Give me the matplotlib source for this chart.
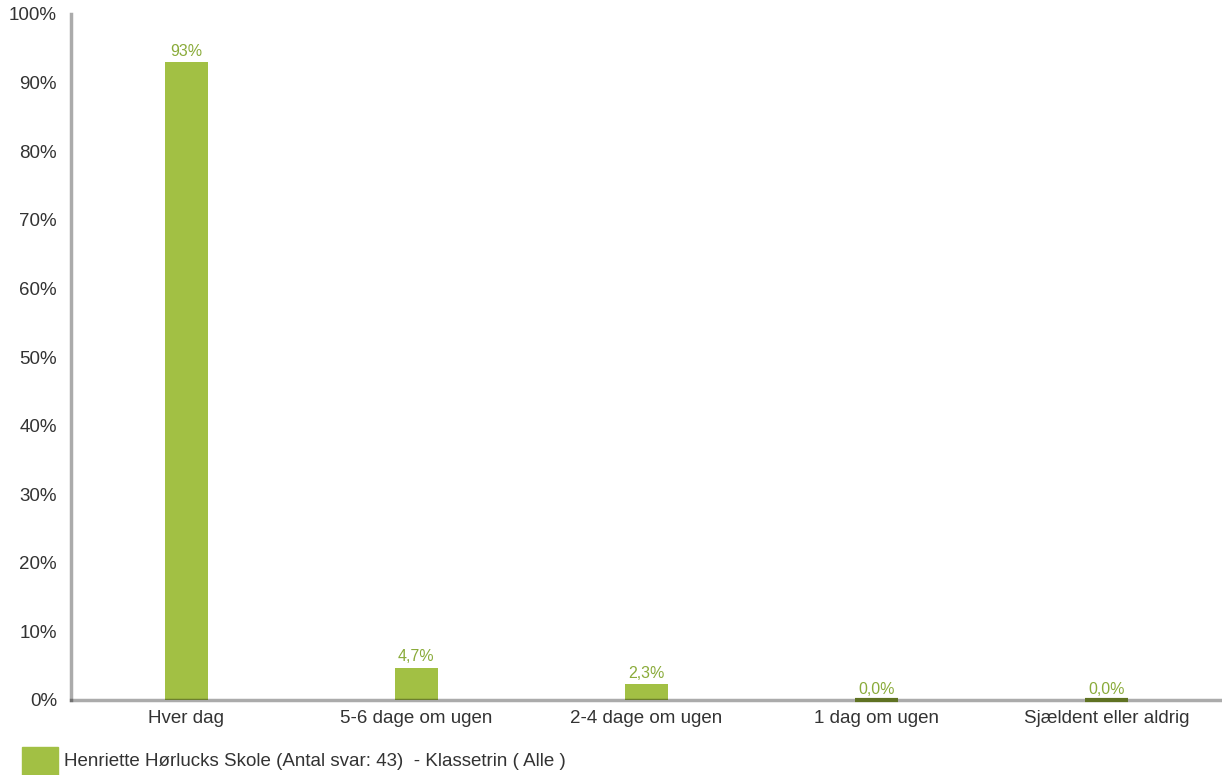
import matplotlib
matplotlib.use("Agg")
import matplotlib.pyplot as plt
from matplotlib.patches import Rectangle

categories = ["Hver dag", "5-6 dage om ugen", "2-4 dage om ugen", "1 dag om ugen", "Sjældent eller aldrig"]
values = [93.0, 4.7, 2.3, 0.0, 0.0]
value_labels = ["93%", "4,7%", "2,3%", "0,0%", "0,0%"]
yticks = [0, 10, 20, 30, 40, 50, 60, 70, 80, 90, 100]
ytick_labels = [f"{t}%" for t in yticks]
legend_label = "Henriette Hørlucks Skole (Antal svar: 43)  - Klassetrin ( Alle )"

bar_color = "#a2c044"
zero_color = "#5f7222"
label_color = "#8aab3a"
text_color = "#333333"

plt.rcParams['font.family'] = ['Liberation Sans', 'DejaVu Sans']

fig = plt.figure(figsize=(12.22, 7.75), dpi=100)
ax = fig.add_axes([71/1222, 1-700/775, 1-71/1222, (700-14)/775])

x = list(range(len(categories)))
ax.bar(x, values, width=0.187, color=bar_color, zorder=2)
for xi, v, lab in zip(x, values, value_labels):
    if v == 0:
        ax.plot([xi-0.0935, xi+0.0935], [0, 0], color=zero_color, lw=3, solid_capstyle='butt', zorder=4, clip_on=False)
    ax.text(xi, v + 0.5, lab, ha='center', va='bottom', color=label_color, fontsize=11.5, zorder=5)

ax.set_xlim(-0.5, 4.5)
ax.set_ylim(0, 100)
ax.set_yticks(yticks)
ax.set_yticklabels(ytick_labels)
ax.set_xticks(x)
ax.set_xticklabels(categories)
ax.tick_params(axis='both', length=0, labelsize=13.5, colors=text_color)
ax.tick_params(axis='y', pad=10)
ax.tick_params(axis='x', pad=7)
for s in ['top', 'right']:
    ax.spines[s].set_visible(False)
for s in ['left', 'bottom']:
    ax.spines[s].set_color((0, 0, 0, 0.33))
    ax.spines[s].set_linewidth(2.5)
    ax.spines[s].set_zorder(3)

fig.patches.append(Rectangle((22/1222, 1-775/775), 36/1222, 28/775, transform=fig.transFigure, color=bar_color, figure=fig))
fig.text(64/1222, 1-761/775, legend_label, ha='left', va='center', fontsize=13.5, color=text_color)

fig.savefig("out.png", dpi=100)
